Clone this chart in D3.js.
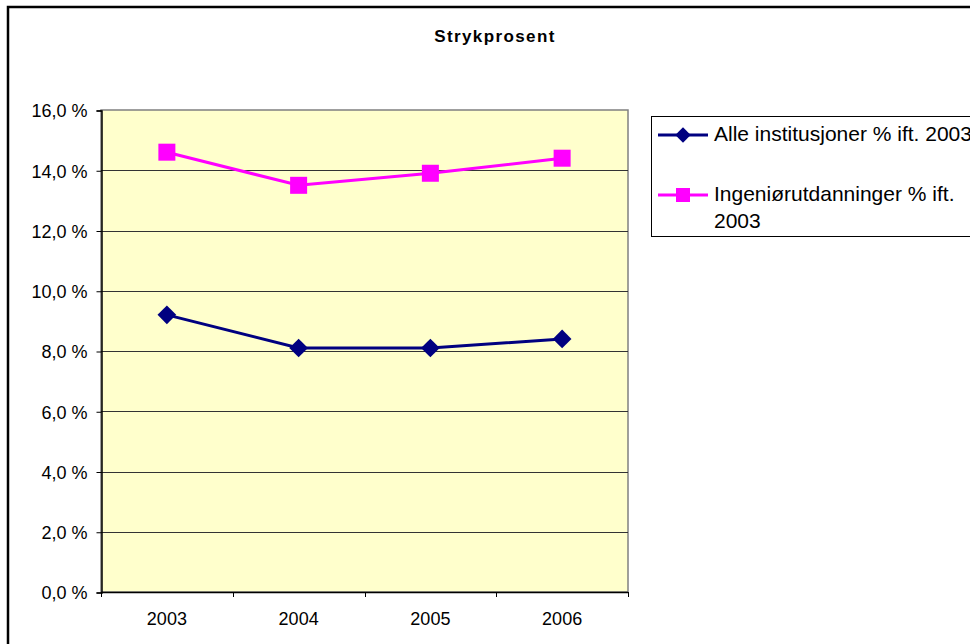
<!DOCTYPE html>
<html><head><meta charset="utf-8">
<script src="https://cdn.jsdelivr.net/npm/d3@7/dist/d3.min.js"></script>
<style>body{margin:0;background:#fff;}svg{display:block;font-family:"Liberation Sans",Arial,sans-serif;}</style>
</head><body><svg id="c" width="970" height="644"></svg>
<script>
const years = ["2003","2004","2005","2006"];
const alleValues = [9.2, 8.1, 8.1, 8.4];
const ingValues = [14.6, 13.5, 13.9, 14.4];
const yTicks = [0,2,4,6,8,10,12,14,16];
const seriesNames = ["Alle institusjoner % ift. 2003", "Ingeniørutdanninger % ift. 2003"];
const title = "Strykprosent";

const svg = d3.select("#c");
// outer chart border
svg.append("rect").attr("x",8).attr("y",7).attr("width",980).attr("height",660)
  .attr("fill","#fff").attr("stroke","#000").attr("stroke-width",2.5);

const L=101, R=628, T=110, B=592;
const x = d3.scaleBand().domain(years).range([L,R]);
const y = d3.scaleLinear().domain([0,16]).range([B,T]);

svg.append("rect").attr("x",L).attr("y",T).attr("width",R-L).attr("height",B-T)
  .attr("fill","#FFFFCC").attr("stroke","#808080").attr("stroke-width",1.5);

// gridlines
svg.append("g").selectAll("line").data(yTicks.filter(d=>d>0&&d<16)).join("line")
  .attr("x1",L).attr("x2",R).attr("y1",d=>Math.round(y(d))+0.5).attr("y2",d=>Math.round(y(d))+0.5)
  .attr("stroke","#333").attr("stroke-width",1.2);

// y axis
const yAxis = d3.axisLeft(y).tickValues(yTicks).tickSize(5).tickPadding(9)
  .tickFormat(d=>d3.format(".1f")(d).replace(".",",")+" %");
const gy = svg.append("g").attr("transform",`translate(${L+0.5},0.5)`).call(yAxis);
gy.attr("font-size",null).attr("font-family",null);
gy.select(".domain").attr("stroke","#000").attr("stroke-width",1.5);
gy.selectAll(".tick line").attr("stroke","#000");
gy.selectAll("text").style("font-size","18px").attr("fill","#000").attr("dy","0.35em");

// x axis
const xAxis = d3.axisBottom(x).tickSize(0).tickPadding(20);
const gx = svg.append("g").attr("transform",`translate(0,${B+0.5})`).call(xAxis);
gx.attr("font-size",null).attr("font-family",null);
gx.select(".domain").attr("stroke","#000").attr("stroke-width",1.5).attr("d",`M${L},0H${R}`);
gx.selectAll("text").style("font-size","18px").attr("fill","#000");
// category boundary ticks
svg.append("g").selectAll("line").data(years.concat(["end"])).join("line")
  .attr("x1",(d,i)=>Math.round(L+i*x.step())+0.5).attr("x2",(d,i)=>Math.round(L+i*x.step())+0.5)
  .attr("y1",B).attr("y2",B+5).attr("stroke","#000");

const cx = d=>x(d)+x.bandwidth()/2;
const line = d3.line().x((d,i)=>cx(years[i])).y(d=>y(d));

const series = [
  {name:seriesNames[0], values:alleValues, color:"#000080", shape:"diamond"},
  {name:seriesNames[1], values:ingValues, color:"#FF00FF", shape:"square"}
];
function marker(g, shape, color, px, py, s){
  if(shape==="square"){
    g.append("rect").attr("x",px-s/2).attr("y",py-s/2).attr("width",s).attr("height",s).attr("fill",color);
  } else {
    const h=s*0.55;
    g.append("path").attr("d",`M${px},${py-h}L${px+h},${py}L${px},${py+h}L${px-h},${py}Z`).attr("fill",color);
  }
}
series.forEach(s=>{
  svg.append("path").datum(s.values).attr("d",line).attr("fill","none")
    .attr("stroke",s.color).attr("stroke-width",3);
  const g = svg.append("g");
  s.values.forEach((v,i)=>marker(g,s.shape,s.color,cx(years[i]),y(v),17));
});

// title
svg.append("text").attr("x",495).attr("y",42).attr("text-anchor","middle")
  .style("font-size","17px").attr("font-weight","bold").attr("letter-spacing","1.4px").text(title);

// legend
svg.append("rect").attr("x",651.5).attr("y",116.5).attr("width",340).attr("height",120)
  .attr("fill","#fff").attr("stroke","#000").attr("stroke-width",1);
const leg = [
  {s:series[0], y:135, lines:[seriesNames[0]]},
  {s:series[1], y:195, lines:["Ingeniørutdanninger % ift.","2003"]}
];
leg.forEach(l=>{
  svg.append("line").attr("x1",658).attr("x2",708).attr("y1",l.y).attr("y2",l.y)
    .attr("stroke",l.s.color).attr("stroke-width",3);
  marker(svg,l.s.shape,l.s.color,683,l.y,14);
  const t = svg.append("text").attr("x",714).attr("y",l.y+6).style("font-size","21px").attr("fill","#000");
  l.lines.forEach((ln,i)=>t.append("tspan").attr("x",714).attr("dy",i===0?0:27).text(ln));
});
</script></body></html>
